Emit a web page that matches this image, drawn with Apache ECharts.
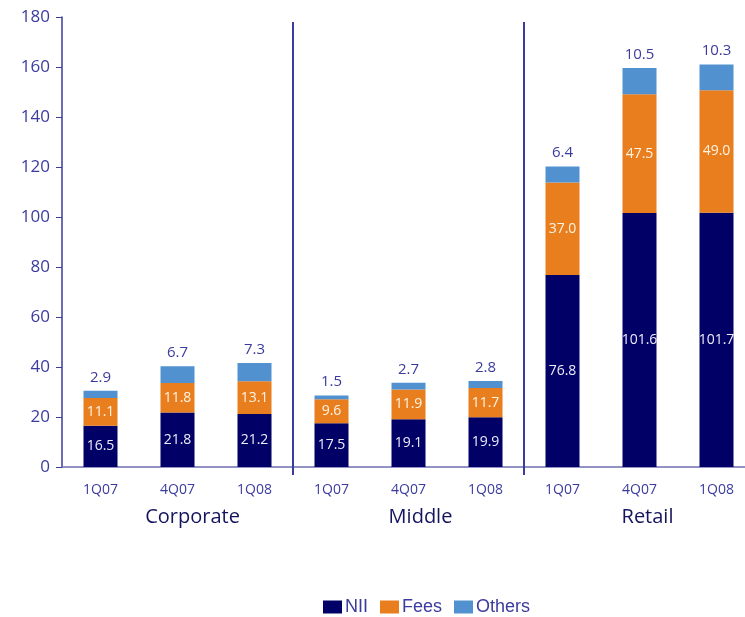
<!DOCTYPE html>
<html>
<head>
<meta charset="utf-8">
<script src="https://cdn.jsdelivr.net/npm/echarts@6/dist/echarts.min.js"></script>
<style>
  html, body { margin: 0; padding: 0; background: #fff; }
  #chart { width: 745px; height: 617px; }
</style>
</head>
<body>
<div id="chart"></div>
<script>
// Revenue breakdown by segment and quarter
const quarters = ['1Q07', '4Q07', '1Q08', '1Q07', '4Q07', '1Q08', '1Q07', '4Q07', '1Q08'];
const segments = ['Corporate', 'Middle', 'Retail'];
const nii    = [16.5, 21.8, 21.2, 17.5, 19.1, 19.9, 76.8, 101.6, 101.7];
const fees   = [11.1, 11.8, 13.1, 9.6, 11.9, 11.7, 37.0, 47.5, 49.0];
const others = [2.9, 6.7, 7.3, 1.5, 2.7, 2.8, 6.4, 10.5, 10.3];

const FONT = '"Open Sans", "Noto Sans", sans-serif';
const AXIS_BLUE = '#3b3b9e';
const SEG_COLOR = '#14145e';
const fmt = p => p.value.toFixed(1);

const chart = echarts.init(document.getElementById('chart'), null, { renderer: 'canvas' });

// segment titles sit a little right of their group centre
const segStyle = pad => ({ color: SEG_COLOR, fontSize: 20, fontFamily: FONT, padding: [0, 0, 0, pad] });

chart.setOption({
  animation: false,
  // the plot runs slightly past the right edge of the canvas
  grid: { left: 62, width: 693, top: 17, height: 450, containLabel: false, outerBoundsMode: 'none' },
  legend: {
    top: 593,
    left: 318,
    itemWidth: 19,
    itemHeight: 13,
    itemGap: 12,
    icon: 'rect',
    textStyle: { color: AXIS_BLUE, fontSize: 18, fontFamily: '"Liberation Sans", Arial, sans-serif', padding: [0, 0, 0, -2] },
    data: ['NII', 'Fees', 'Others']
  },
  xAxis: [
    {
      type: 'category',
      data: quarters,
      axisLine: { lineStyle: { color: '#6f6fb3', width: 1.5 } },
      axisTick: { show: false },
      axisLabel: { color: AXIS_BLUE, fontSize: 14, fontFamily: FONT, margin: 16 }
    },
    {
      type: 'category',
      data: segments,
      position: 'bottom',
      axisLine: { show: false },
      axisTick: { show: false },
      axisLabel: {
        color: SEG_COLOR, fontSize: 20, fontFamily: FONT, margin: 40,
        formatter: (v, i) => '{s' + i + '|' + v + '}',
        rich: { s0: segStyle(30), s1: segStyle(24), s2: segStyle(16) }
      }
    }
  ],
  yAxis: {
    type: 'value',
    min: 0,
    max: 180,
    interval: 20,
    splitLine: { show: false },
    axisLine: { show: true, lineStyle: { color: AXIS_BLUE, width: 1.5 } },
    axisTick: { show: true, length: 6, lineStyle: { color: AXIS_BLUE } },
    axisLabel: { color: AXIS_BLUE, fontSize: 17, fontFamily: FONT, margin: 12 }
  },
  series: [
    {
      name: 'NII', type: 'bar', stack: 'total', data: nii, barWidth: 34,
      itemStyle: { color: '#000066' },
      label: { show: true, position: 'inside', color: '#ececf8', fontSize: 14, fontFamily: FONT, formatter: fmt }
    },
    {
      name: 'Fees', type: 'bar', stack: 'total', data: fees, barWidth: 34,
      itemStyle: { color: '#e87e1e' },
      label: { show: true, position: 'inside', color: '#fff4e4', fontSize: 14, fontFamily: FONT, formatter: fmt }
    },
    {
      name: 'Others', type: 'bar', stack: 'total', data: others, barWidth: 34,
      itemStyle: { color: '#5191cf' },
      label: { show: true, position: 'top', distance: 6, color: AXIS_BLUE, fontSize: 15, fontFamily: FONT, formatter: fmt }
    }
  ]
});

// Vertical dividers between the three segments, placed halfway between neighbouring categories
function drawDividers() {
  const lines = [];
  [2, 5].forEach(i => {
    const xa = chart.convertToPixel({ xAxisIndex: 0 }, i);
    const xb = chart.convertToPixel({ xAxisIndex: 0 }, i + 1);
    const x = (xa + xb) / 2;
    const yTop = chart.convertToPixel({ yAxisIndex: 0 }, 178);
    const yBase = chart.convertToPixel({ yAxisIndex: 0 }, 0);
    lines.push({
      type: 'line',
      shape: { x1: x, y1: yTop, x2: x, y2: yBase + 8 },
      style: { stroke: AXIS_BLUE, lineWidth: 2 },
      z: 10
    });
  });
  chart.setOption({ graphic: lines });
}
drawDividers();
</script>
</body>
</html>
